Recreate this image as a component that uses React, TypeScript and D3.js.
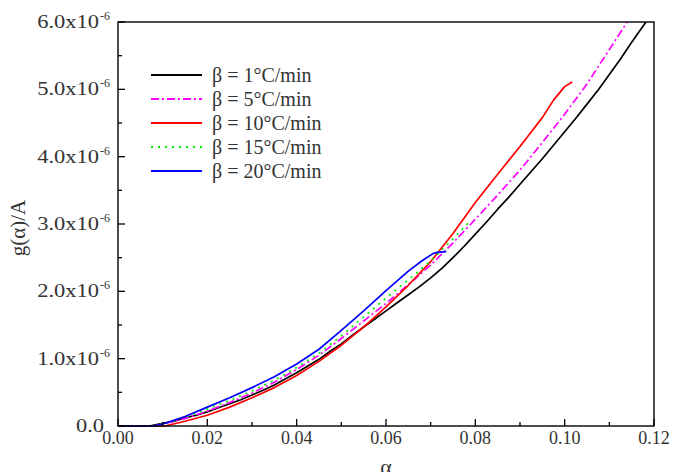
import React from "react";
import * as d3 from "d3";

// ---- data (alpha, g(alpha)/A in units of 1e-6) ----
const alpha1 = [0, 0.007, 0.01, 0.0125, 0.015, 0.0175, 0.02, 0.0225, 0.025, 0.0275, 0.03, 0.0325, 0.035, 0.0375, 0.04, 0.0425, 0.045, 0.0475, 0.05, 0.0525, 0.055, 0.0575, 0.06, 0.0625, 0.065, 0.0675, 0.07, 0.0725, 0.075, 0.0775, 0.08, 0.0825, 0.085, 0.0875, 0.09, 0.0925, 0.095, 0.0975, 0.1, 0.1025, 0.105, 0.1075, 0.11, 0.1125, 0.115, 0.1182];
const g1 = [0, 0, 0.04, 0.07, 0.12, 0.16, 0.21, 0.27, 0.33, 0.39, 0.46, 0.53, 0.61, 0.7, 0.79, 0.89, 0.99, 1.11, 1.22, 1.35, 1.47, 1.59, 1.71, 1.83, 1.95, 2.07, 2.2, 2.34, 2.5, 2.67, 2.85, 3.03, 3.22, 3.4, 3.59, 3.78, 3.97, 4.17, 4.37, 4.57, 4.78, 4.99, 5.22, 5.45, 5.7, 6.0];

const alpha5 = [0, 0.008, 0.01, 0.015, 0.02, 0.025, 0.03, 0.035, 0.04, 0.045, 0.05, 0.055, 0.06, 0.065, 0.07, 0.075, 0.08, 0.085, 0.09, 0.095, 0.1, 0.105, 0.11, 0.114];
const g5 = [0, 0, 0.03, 0.11, 0.22, 0.35, 0.49, 0.65, 0.84, 1.05, 1.3, 1.56, 1.82, 2.1, 2.39, 2.72, 3.07, 3.43, 3.8, 4.21, 4.63, 5.08, 5.59, 6.0];

const alpha10 = [0, 0.0105, 0.015, 0.02, 0.025, 0.03, 0.035, 0.04, 0.045, 0.05, 0.055, 0.06, 0.065, 0.07, 0.075, 0.08, 0.085, 0.09, 0.095, 0.0975, 0.1, 0.1017];
const g10 = [0, 0, 0.07, 0.16, 0.28, 0.42, 0.57, 0.75, 0.96, 1.2, 1.47, 1.77, 2.09, 2.44, 2.86, 3.32, 3.74, 4.15, 4.58, 4.84, 5.04, 5.11];

const alpha15 = [0, 0.008, 0.01, 0.015, 0.02, 0.025, 0.03, 0.035, 0.04, 0.045, 0.05, 0.055, 0.06, 0.065, 0.07, 0.075, 0.0791];
const g15 = [0, 0, 0.03, 0.13, 0.25, 0.38, 0.52, 0.68, 0.87, 1.08, 1.34, 1.62, 1.9, 2.17, 2.45, 2.78, 3.06];

const alpha20 = [0, 0.008, 0.01, 0.015, 0.02, 0.025, 0.03, 0.035, 0.04, 0.045, 0.05, 0.055, 0.06, 0.065, 0.068, 0.0705, 0.0715, 0.0735];
const g20 = [0, 0, 0.03, 0.14, 0.28, 0.42, 0.57, 0.73, 0.92, 1.14, 1.42, 1.71, 2.01, 2.3, 2.45, 2.56, 2.58, 2.59];

const seriesNames = ["β = 1°C/min", "β = 5°C/min", "β = 10°C/min", "β = 15°C/min", "β = 20°C/min"];
const seriesColors = ["#000000", "#ff00ff", "#ff0000", "#00ee00", "#0000ff"];
const seriesDash = ["", "8,3,2,3", "", "2,5", ""];

const xTicks = [0, 0.02, 0.04, 0.06, 0.08, 0.1, 0.12];
const xTickLabels = ["0.00", "0.02", "0.04", "0.06", "0.08", "0.10", "0.12"];
const yTicks = [0, 1, 2, 3, 4, 5, 6];
const yTickLabels = ["0.0", "1.0x10", "2.0x10", "3.0x10", "4.0x10", "5.0x10", "6.0x10"];

const FONT = "'Liberation Serif', 'Times New Roman', serif";

export default function App() {
  const left = 118, right = 654, top = 22, bottom = 426;
  const x = d3.scaleLinear().domain([0, 0.12]).range([left, right]);
  const y = d3.scaleLinear().domain([0, 6]).range([bottom, top]);
  const line = d3.line<[number, number]>().x(d => x(d[0])).y(d => y(d[1]));

  const series: [number[], number[]][] = [
    [alpha1, g1], [alpha5, g5], [alpha10, g10], [alpha15, g15], [alpha20, g20],
  ];
  const drawOrder = [0, 1, 2, 3, 4];

  const xMinor = d3.range(0, 0.1201, 0.01);
  const yMinor = d3.range(0, 6.001, 0.5);

  return (
    <svg width={674} height={472} style={{ position: "absolute", left: 0, top: 0, background: "#fff" }} fontFamily={FONT}>
      <rect x={0} y={0} width={674} height={472} fill="#fff" />
      <defs>
        <clipPath id="plotclip">
          <rect x={left} y={top} width={right - left} height={bottom - top + 2} />
        </clipPath>
      </defs>
      <g clipPath="url(#plotclip)">
        {drawOrder.map(i => {
          const pts = series[i][0].map((a, k) => [a, series[i][1][k]] as [number, number]);
          return (
            <path key={i} d={line(pts) || ""} fill="none" stroke={seriesColors[i]}
              strokeWidth={1.7} strokeDasharray={seriesDash[i] || undefined} strokeLinejoin="round" />
          );
        })}
      </g>
      {/* frame */}
      <rect x={left} y={top} width={right - left} height={bottom - top} fill="none" stroke="#000" strokeWidth={1.4} />
      {/* ticks */}
      {xMinor.map((v, i) => {
        const major = i % 2 === 0;
        return <line key={"xt" + i} x1={x(v)} x2={x(v)} y1={bottom} y2={bottom - (major ? 7 : 4)} stroke="#000" strokeWidth={1.3} />;
      })}
      {yMinor.map((v, i) => {
        const major = i % 2 === 0;
        return <line key={"yt" + i} x1={left} x2={left + (major ? 7 : 4)} y1={y(v)} y2={y(v)} stroke="#000" strokeWidth={1.3} />;
      })}
      {xTicks.map((v, i) => (
        <text key={"xl" + i} x={x(v)} y={bottom + 18} textAnchor="middle" fontSize={18} fill="#333">{xTickLabels[i]}</text>
      ))}
      {yTicks.map((v, i) => (
        <g key={"yl" + i}>
          <g transform={`translate(${i === 0 ? left - 14 : left - 19}, ${y(v) + 6}) scale(1.25,1)`}>
            <text x={0} y={0} textAnchor="end" fontSize={18} fill="#333">{yTickLabels[i]}</text>
          </g>
          {i > 0 && (
            <text x={left - 18} y={y(v) - 2} fontSize={12} fill="#333">-6</text>
          )}
        </g>
      ))}
      <text x={(left + right) / 2} y={474} textAnchor="middle" fontSize={22} fill="#333">α</text>
      <text transform={`translate(25, 228) rotate(-90)`} textAnchor="middle" fontSize={21} fill="#333">g(α)/A</text>
      {/* legend */}
      {seriesNames.map((n, i) => {
        const ly = 75 + i * 24;
        return (
          <g key={"lg" + i}>
            <line x1={151} x2={202} y1={ly} y2={ly} stroke={seriesColors[i]} strokeWidth={1.8}
              strokeDasharray={seriesDash[i] || undefined} />
            <text x={212} y={ly + 7} fontSize={20} fill="#333">{n}</text>
          </g>
        );
      })}
    </svg>
  );
}
